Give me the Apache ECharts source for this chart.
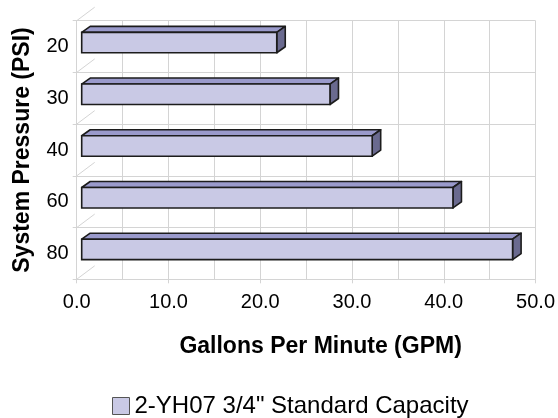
<!DOCTYPE html>
<html>
<head>
<meta charset="utf-8">
<script src="https://cdn.jsdelivr.net/npm/echarts@6/dist/echarts.min.js"></script>
<style>
html,body{margin:0;padding:0;background:#fff;}
#chart{width:558px;height:418px;}
</style>
</head>
<body>
<div id="chart"></div>
<script>
var categories = ['20', '30', '40', '60', '80'];
var gpmValues = [21.8, 27.6, 32.2, 41.0, 47.5];
var seriesName = '2-YH07 3/4" Standard Capacity';
var xTicks = { min: 0, max: 50, interval: 10 };

var FONT = "'Liberation Sans', Arial, Helvetica, sans-serif";
var GRID_COLOR = '#d4d4d4';
var FRONT = '#c9c9e5';
var TOP = '#9a9acb';
var SIDE = '#6a6a8f';
var EDGE = '#1c1c1c';

var chart = echarts.init(document.getElementById('chart'), null, {renderer: 'canvas'});

function renderBar(params, api) {
  var idx = api.value(0);
  var val = api.value(1);
  var p0 = api.coord([0, idx]);
  var p1 = api.coord([val, idx]);
  var band = api.size([0, 1])[1];
  var dx = 8.5, dy = -6;
  var x0 = p0[0] + 5;
  var x1 = p1[0];
  var yTop = p0[1] - band * 0.275;
  var yBot = p0[1] + band * 0.12;
  var lw = 1.6;
  return {
    type: 'group',
    children: [
      {
        type: 'polygon',
        shape: {points: [[x0, yTop], [x1, yTop], [x1 + dx, yTop + dy], [x0 + dx, yTop + dy]]},
        style: {fill: TOP, stroke: EDGE, lineWidth: lw, lineJoin: 'round'}
      },
      {
        type: 'polygon',
        shape: {points: [[x1, yTop], [x1 + dx, yTop + dy], [x1 + dx, yBot + dy], [x1, yBot]]},
        style: {fill: SIDE, stroke: EDGE, lineWidth: lw, lineJoin: 'round'}
      },
      {
        type: 'rect',
        shape: {x: x0, y: yTop, width: x1 - x0, height: yBot - yTop},
        style: {fill: FRONT, stroke: EDGE, lineWidth: lw}
      }
    ]
  };
}

function renderWall(params, api) {
  var idx = api.value(0);
  var p = api.coord([0, idx]);
  var band = api.size([0, 1])[1];
  var children = [];
  var ys = [p[1] + band / 2];
  if (idx === 0) ys.push(p[1] - band / 2);
  ys.forEach(function (y) {
    children.push({
      type: 'line',
      shape: {x1: p[0], y1: y, x2: p[0] + 18, y2: y - 13.5},
      style: {stroke: GRID_COLOR, lineWidth: 1}
    });
  });
  return {type: 'group', children: children};
}

var barData = gpmValues.map(function (v, i) { return [i, v]; });
var wallData = categories.map(function (c, i) { return [i, 0]; });

chart.setOption({
  animation: false,
  backgroundColor: '#ffffff',
  grid: {left: 76.7, right: 22, top: 20.7, bottom: 138.7},
  legend: {
    left: 107, top: 389,
    itemWidth: 17, itemHeight: 17, itemGap: 10,
    textStyle: {fontFamily: FONT, fontSize: 24, color: '#000'},
    data: [{name: seriesName, icon: 'rect', itemStyle: {color: FRONT, borderColor: '#555', borderWidth: 1}}]
  },
  xAxis: {
    type: 'value',
    min: xTicks.min, max: xTicks.max, interval: xTicks.interval,
    name: 'Gallons Per Minute (GPM)',
    nameLocation: 'middle',
    nameGap: 56,
    nameTextStyle: {fontFamily: FONT, fontSize: 23, fontWeight: 'bold', color: '#000', padding: [0, 0, 0, 29]},
    axisLine: {show: true, lineStyle: {color: GRID_COLOR, width: 1}},
    axisTick: {show: true, length: 4, lineStyle: {color: GRID_COLOR}},
    axisLabel: {
      fontFamily: FONT, fontSize: 20, color: '#000', margin: 13,
      formatter: function (v) { return v.toFixed(1); }
    },
    splitLine: {show: true, lineStyle: {color: GRID_COLOR, width: 1}},
    minorTick: {show: false, splitNumber: 2},
    minorSplitLine: {show: true, lineStyle: {color: GRID_COLOR, width: 1}}
  },
  yAxis: {
    type: 'category',
    data: categories,
    inverse: true,
    name: 'System Pressure (PSI)',
    nameLocation: 'middle',
    nameGap: 43,
    nameRotate: 90,
    nameTextStyle: {fontFamily: FONT, fontSize: 23, fontWeight: 'bold', color: '#000'},
    axisLine: {show: true, lineStyle: {color: GRID_COLOR, width: 1}},
    axisTick: {show: true, length: 4, lineStyle: {color: GRID_COLOR}},
    axisLabel: {fontFamily: FONT, fontSize: 20, color: '#000', margin: 8},
    splitLine: {show: true, lineStyle: {color: GRID_COLOR, width: 1}}
  },
  series: [
    {
      type: 'custom',
      name: 'wall',
      silent: true,
      renderItem: renderWall,
      encode: {y: 0, x: 1},
      data: wallData,
      clip: false,
      z: 1
    },
    {
      type: 'custom',
      name: seriesName,
      renderItem: renderBar,
      encode: {y: 0, x: 1},
      itemStyle: {color: FRONT},
      data: barData,
      clip: false,
      z: 3
    }
  ]
});
</script>
</body>
</html>
